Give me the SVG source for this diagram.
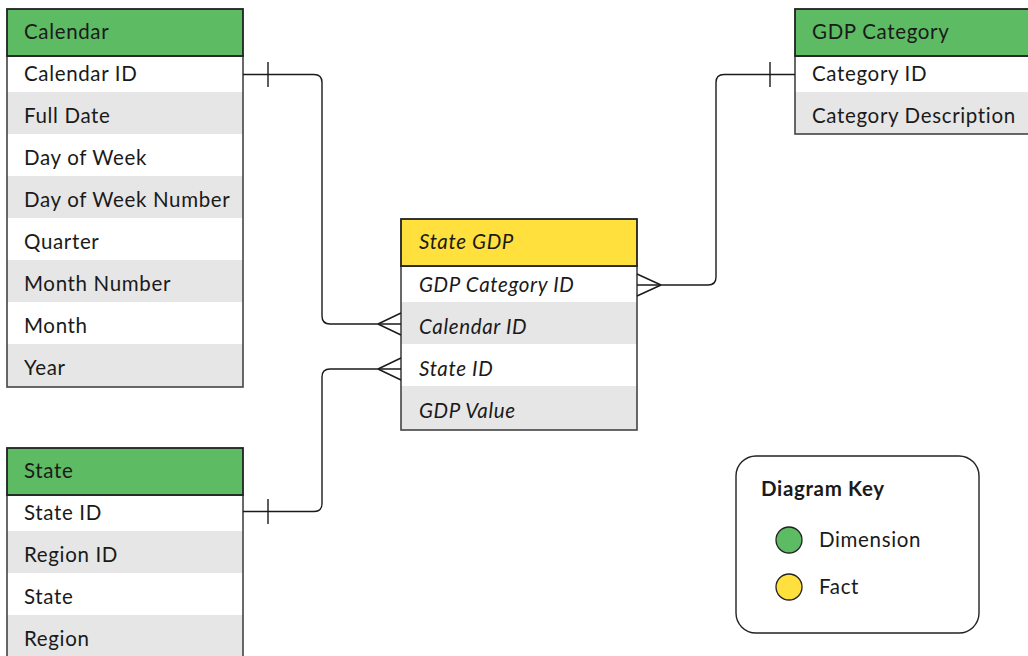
<svg xmlns="http://www.w3.org/2000/svg" width="1028" height="656" viewBox="0 0 1028 656">
<style>
.t{font-family:Lato,"Noto Sans",sans-serif;font-size:20.5px;letter-spacing:0.65px;fill:#1a1a1a}
.i{font-style:italic}
.hd{stroke:#222;stroke-width:1.8}
.dim{fill:#5DBB63}
.fact{fill:#FFE03D}
.w{fill:#fff}
.g{fill:#E6E6E6}
.box{fill:none;stroke:#444;stroke-width:1.6}
.c{fill:none;stroke:#1a1a1a;stroke-width:1.4}
</style>
<rect width="1028" height="656" fill="#fff"/>

<g id="calendar">
<rect class="w" x="7" y="56" width="236" height="331"/>
<rect class="g" x="7" y="92" width="236" height="42"/>
<rect class="g" x="7" y="176" width="236" height="42"/>
<rect class="g" x="7" y="260" width="236" height="42"/>
<rect class="g" x="7" y="344" width="236" height="43"/>
<rect class="box" x="7" y="56" width="236" height="331"/>
<rect class="dim hd" x="7" y="9" width="236" height="47"/>
<text class="t" x="24" y="39">Calendar</text>
<text class="t" x="24" y="81">Calendar ID</text>
<text class="t" x="24" y="123">Full Date</text>
<text class="t" x="24" y="165">Day of Week</text>
<text class="t" x="24" y="207">Day of Week Number</text>
<text class="t" x="24" y="249">Quarter</text>
<text class="t" x="24" y="291">Month Number</text>
<text class="t" x="24" y="333">Month</text>
<text class="t" x="24" y="375">Year</text>
</g>

<g id="state">
<rect class="w" x="7" y="495" width="236" height="170"/>
<rect class="g" x="7" y="531" width="236" height="42"/>
<rect class="g" x="7" y="615" width="236" height="50"/>
<rect class="box" x="7" y="495" width="236" height="170"/>
<rect class="dim hd" x="7" y="448" width="236" height="47"/>
<text class="t" x="24" y="478">State</text>
<text class="t" x="24" y="520">State ID</text>
<text class="t" x="24" y="562">Region ID</text>
<text class="t" x="24" y="604">State</text>
<text class="t" x="24" y="646">Region</text>
</g>

<g id="gdp-category">
<rect class="w" x="795" y="56" width="250" height="78"/>
<rect class="g" x="795" y="92" width="250" height="42"/>
<rect class="box" x="795" y="56" width="250" height="78"/>
<rect class="dim hd" x="795" y="9" width="250" height="47"/>
<text class="t" x="812" y="39">GDP Category</text>
<text class="t" x="812" y="81">Category ID</text>
<text class="t" x="812" y="123">Category Description</text>
</g>

<g id="state-gdp">
<rect class="w" x="401" y="266" width="236" height="164"/>
<rect class="g" x="401" y="302" width="236" height="42"/>
<rect class="g" x="401" y="386" width="236" height="44"/>
<rect class="box" x="401" y="266" width="236" height="164"/>
<rect class="fact hd" x="401" y="219" width="236" height="47"/>
<text class="t i" x="419" y="249">State GDP</text>
<text class="t i" x="419" y="292">GDP Category ID</text>
<text class="t i" x="419" y="334">Calendar ID</text>
<text class="t i" x="419" y="376">State ID</text>
<text class="t i" x="419" y="418">GDP Value</text>
</g>

<g id="connectors">
<path class="c" d="M243,74.5 H314 Q322,74.5 322,82.5 V316 Q322,324 330,324 H401"/>
<path class="c" d="M268,62 V87 M378,324 L401,313 M378,324 L401,335"/>
<path class="c" d="M243,511.5 H314 Q322,511.5 322,503.5 V377 Q322,369 330,369 H401"/>
<path class="c" d="M268,499 V524 M378,369 L401,358 M378,369 L401,380"/>
<path class="c" d="M637,285 H708 Q716,285 716,277 V82.5 Q716,74.5 724,74.5 H795"/>
<path class="c" d="M770,62 V87 M661,285 L637,274 M661,285 L637,296"/>
</g>

<g id="key">
<rect x="736" y="456" width="243" height="177" rx="20" fill="#fff" stroke="#222" stroke-width="1.4"/>
<text class="t" x="761" y="496" font-weight="bold" font-size="19.5" letter-spacing="1">Diagram Key</text>
<circle class="dim" cx="789" cy="540" r="13" stroke="#222" stroke-width="1.3"/>
<text class="t" x="819" y="547">Dimension</text>
<circle class="fact" cx="789" cy="587" r="13" stroke="#222" stroke-width="1.3"/>
<text class="t" x="819" y="594">Fact</text>
</g>
</svg>
